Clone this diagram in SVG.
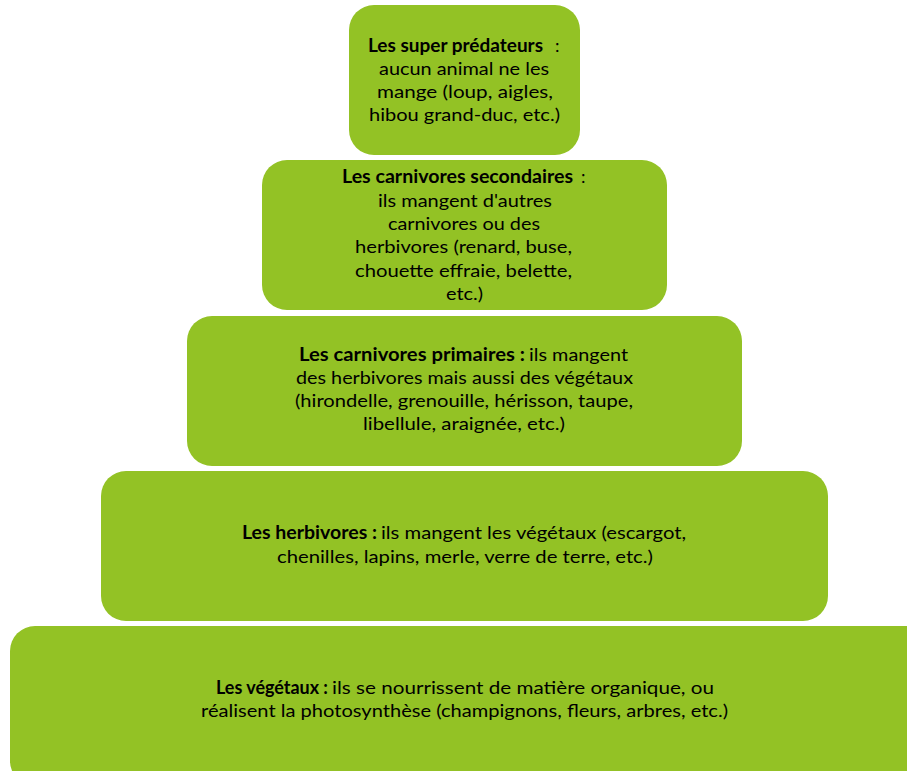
<svg xmlns="http://www.w3.org/2000/svg" width="907" height="771" viewBox="0 0 907 771">
<style>
.box{fill:#93C225;}
.t{font-family:Lato,"Liberation Sans",Arial,sans-serif;font-size:18px;fill:#000;}
.c{text-anchor:middle;}
.b{font-weight:bold;}
</style>
<rect width="907" height="771" fill="#fff"/>
<g id="super-predateurs">
<rect class="box" x="349" y="5" width="231" height="150" rx="25"/>
<text class="t b" x="368" y="52" textLength="175" lengthAdjust="spacingAndGlyphs">Les super prédateurs</text>
<text class="t" x="555" y="52">:</text>
<text class="t c" x="464" y="75" textLength="170" lengthAdjust="spacingAndGlyphs">aucun animal ne les</text>
<text class="t c" x="465" y="98" textLength="176" lengthAdjust="spacingAndGlyphs">mange (loup, aigles,</text>
<text class="t c" x="464.5" y="121" textLength="191" lengthAdjust="spacingAndGlyphs">hibou grand-duc, etc.)</text>
</g>
<g id="carnivores-secondaires">
<rect class="box" x="262" y="160" width="405" height="150" rx="25"/>
<text class="t b" x="342" y="183" textLength="231" lengthAdjust="spacingAndGlyphs">Les carnivores secondaires</text>
<text class="t" x="581" y="183">:</text>
<text class="t c" x="465" y="207" textLength="174" lengthAdjust="spacingAndGlyphs">ils mangent d'autres</text>
<text class="t c" x="464" y="230" textLength="152" lengthAdjust="spacingAndGlyphs">carnivores ou des</text>
<text class="t c" x="463.5" y="253" textLength="217" lengthAdjust="spacingAndGlyphs">herbivores (renard, buse,</text>
<text class="t c" x="463.5" y="277" textLength="217" lengthAdjust="spacingAndGlyphs">chouette effraie, belette,</text>
<text class="t c" x="464.5" y="300" textLength="37" lengthAdjust="spacingAndGlyphs">etc.)</text>
</g>
<g id="carnivores-primaires">
<rect class="box" x="187" y="316" width="555" height="150" rx="25"/>
<text class="t b" x="299" y="361" textLength="226" lengthAdjust="spacingAndGlyphs">Les carnivores primaires :</text>
<text class="t" x="529" y="361" textLength="99" lengthAdjust="spacingAndGlyphs">ils mangent</text>
<text class="t c" x="464.5" y="384" textLength="337" lengthAdjust="spacingAndGlyphs">des herbivores mais aussi des végétaux</text>
<text class="t c" x="464" y="407" textLength="338" lengthAdjust="spacingAndGlyphs">(hirondelle, grenouille, hérisson, taupe,</text>
<text class="t c" x="464" y="430" textLength="202" lengthAdjust="spacingAndGlyphs">libellule, araignée, etc.)</text>
</g>
<g id="herbivores">
<rect class="box" x="101" y="471" width="727" height="150" rx="25"/>
<text class="t b" x="242" y="539" textLength="135" lengthAdjust="spacingAndGlyphs">Les herbivores :</text>
<text class="t" x="381" y="539" textLength="305" lengthAdjust="spacingAndGlyphs">ils mangent les végétaux (escargot,</text>
<text class="t c" x="465" y="563" textLength="376" lengthAdjust="spacingAndGlyphs">chenilles, lapins, merle, verre de terre, etc.)</text>
</g>
<g id="vegetaux">
<rect class="box" x="10" y="626" width="920" height="160" rx="25"/>
<text class="t b" x="216" y="694" textLength="112" lengthAdjust="spacingAndGlyphs">Les végétaux :</text>
<text class="t" x="332" y="694" textLength="382" lengthAdjust="spacingAndGlyphs">ils se nourrissent de matière organique, ou</text>
<text class="t c" x="464.5" y="717" textLength="527" lengthAdjust="spacingAndGlyphs">réalisent la photosynthèse (champignons, fleurs, arbres, etc.)</text>
</g>
<g id="connectors"/>
</svg>
